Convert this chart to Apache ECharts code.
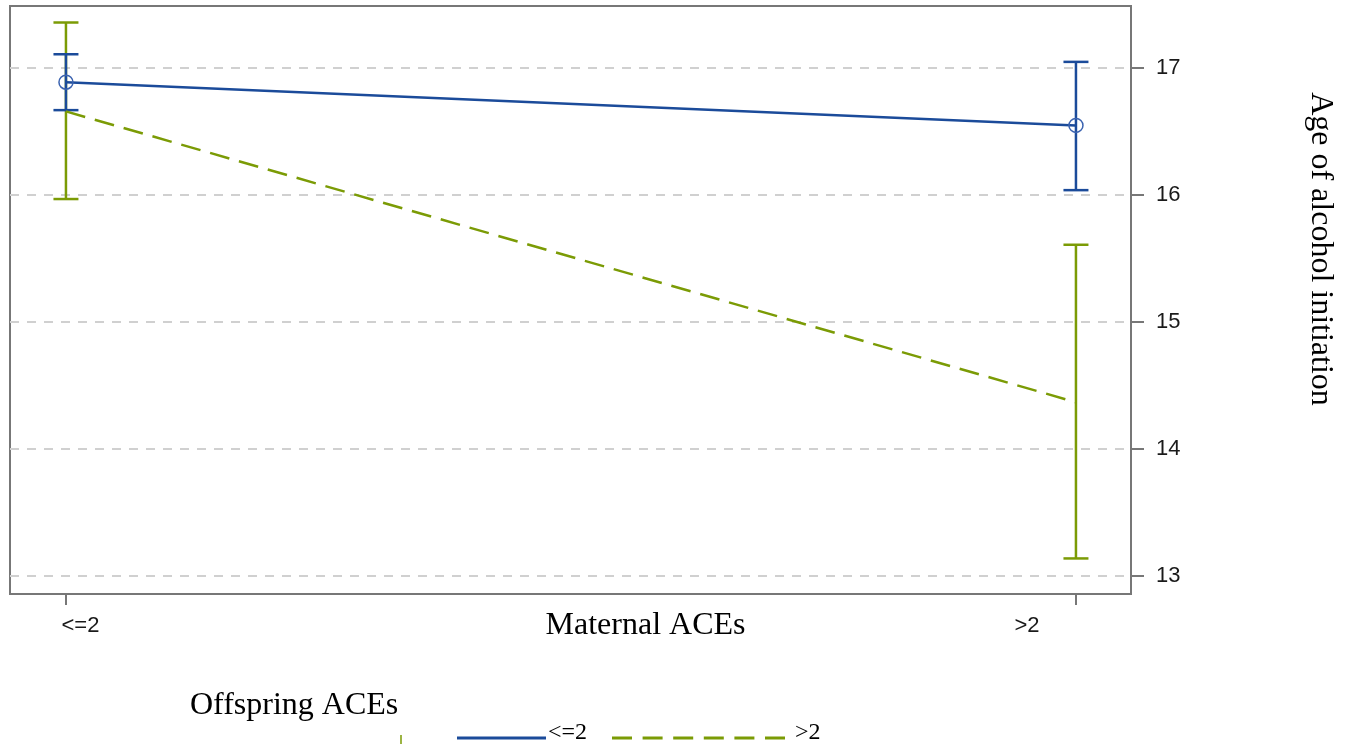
<!DOCTYPE html>
<html>
<head>
<meta charset="utf-8">
<script src="https://cdn.jsdelivr.net/npm/echarts@6/dist/echarts.min.js"></script>
<style>
html,body{margin:0;padding:0;background:#fff;}
#chart{width:1353px;height:744px;}
</style>
</head>
<body>
<div id="chart"></div>
<script>
// Data
var categories = ['<=2', '>2'];            // Maternal ACEs
var yTicks = [13, 14, 15, 16, 17];
var seriesNames = ['<=2', '>2'];          // Offspring ACEs
var meanLow = [16.89, 16.55];             // Offspring ACEs <=2
var ciLowLo = [16.67, 16.04];
var ciLowHi = [17.11, 17.05];
var meanHigh = [16.66, 14.37];            // Offspring ACEs >2
var ciHighLo = [15.97, 13.14];
var ciHighHi = [17.36, 15.61];

var BLUE = '#1b4b9a';
var GREEN = '#7b9b05';
var SERIF = '"Liberation Serif", "Times New Roman", serif';
var SANS = '"Liberation Sans", Arial, sans-serif';

function pts(arr) { return arr.map(function (v, i) { return [i, v]; }); }
function bars(lo, hi) { return lo.map(function (v, i) { return [i, v, hi[i]]; }); }

function errRender(color) {
  return function (params, api) {
    var x = api.value(0);
    var a = api.coord([x, api.value(1)]);
    var b = api.coord([x, api.value(2)]);
    var hw = 12.5;
    var st = { stroke: color, lineWidth: 2.5 };
    return {
      type: 'group',
      children: [
        { type: 'line', shape: { x1: a[0], y1: a[1], x2: b[0], y2: b[1] }, style: st },
        { type: 'line', shape: { x1: a[0] - hw, y1: a[1], x2: a[0] + hw, y2: a[1] }, style: st },
        { type: 'line', shape: { x1: b[0] - hw, y1: b[1], x2: b[0] + hw, y2: b[1] }, style: st }
      ]
    };
  };
}

var chart = echarts.init(document.getElementById('chart'), null, { renderer: 'canvas' });
chart.setOption({
  animation: false,
  backgroundColor: '#fff',
  grid: {
    left: 10, top: 6, right: 222, bottom: 150,
    show: true, borderColor: '#777', borderWidth: 2, backgroundColor: 'transparent'
  },
  xAxis: {
    type: 'value',
    min: -0.0554, max: 1.0545,
    name: 'Maternal ACEs',
    nameLocation: 'middle',
    nameGap: 32,
    nameMoveOverlap: false,
    nameTextStyle: { fontFamily: SERIF, fontSize: 32, color: '#000', verticalAlign: 'middle', padding: [0, 0, 0, 150] },
    axisLine: { show: false, onZero: false },
    splitLine: { show: false },
    axisTick: { show: true, customValues: [0, 1], length: 11, lineStyle: { color: '#777', width: 2 } },
    axisLabel: {
      customValues: [0, 1],
      margin: 21,
      formatter: function (v) { return v < 0.5 ? '{l|' + categories[0] + '}' : '{r|' + categories[1] + '}'; },
      rich: {
        l: { fontFamily: SANS, fontSize: 22, color: '#1a1a1a', padding: [0, 0, 0, 29] },
        r: { fontFamily: SANS, fontSize: 22, color: '#1a1a1a', padding: [0, 98, 0, 0] }
      }
    }
  },
  yAxis: {
    type: 'value',
    position: 'right',
    min: 12.86, max: 17.49,
    axisLine: { show: false, onZero: false },
    axisTick: { show: true, customValues: yTicks, length: 13, lineStyle: { color: '#777', width: 2 } },
    axisLabel: { customValues: yTicks, margin: 25, fontFamily: SANS, fontSize: 22, color: '#1a1a1a' },
    splitLine: { show: true, lineStyle: { color: '#d0d0d0', width: 2, type: [9, 8] } }
  },
  series: [
    {
      name: seriesNames[1] + ' CI', type: 'custom', renderItem: errRender(GREEN),
      data: bars(ciHighLo, ciHighHi), z: 2, silent: true
    },
    {
      name: seriesNames[0] + ' CI', type: 'custom', renderItem: errRender(BLUE),
      data: bars(ciLowLo, ciLowHi), z: 3, silent: true
    },
    {
      name: seriesNames[1], type: 'line', data: pts(meanHigh), z: 4,
      symbol: 'none', lineStyle: { color: GREEN, width: 2.5, type: [20, 10] }, itemStyle: { color: GREEN }
    },
    {
      name: seriesNames[0], type: 'line', data: pts(meanLow), z: 5,
      symbol: 'circle', symbolSize: 14,
      lineStyle: { color: BLUE, width: 2.5 },
      itemStyle: { color: 'rgba(255,255,255,0)', borderColor: '#3b63b0', borderWidth: 1.5 }
    }
  ],
  graphic: [
    {
      type: 'text', x: 1320, y: 249, rotation: -Math.PI / 2,
      style: { text: 'Age of alcohol initiation', fontFamily: SERIF, fontSize: 32, fill: '#000', align: 'center', verticalAlign: 'middle' }
    },
    {
      type: 'text', x: 190, y: 706,
      style: { text: 'Offspring ACEs', fontFamily: SERIF, fontSize: 32, fill: '#000', align: 'left', verticalAlign: 'middle' }
    },
    { type: 'line', shape: { x1: 401, y1: 735, x2: 401, y2: 744 }, style: { stroke: GREEN, lineWidth: 1.5 } },
    { type: 'line', shape: { x1: 457, y1: 738, x2: 546, y2: 738 }, style: { stroke: BLUE, lineWidth: 3 } },
    {
      type: 'text', x: 548, y: 733,
      style: { text: seriesNames[0], fontFamily: SERIF, fontSize: 24, fill: '#000', align: 'left', verticalAlign: 'middle' }
    },
    { type: 'line', shape: { x1: 612, y1: 738, x2: 785, y2: 738 }, style: { stroke: GREEN, lineWidth: 3, lineDash: [20, 10.6] } },
    {
      type: 'text', x: 795, y: 733,
      style: { text: seriesNames[1], fontFamily: SERIF, fontSize: 24, fill: '#000', align: 'left', verticalAlign: 'middle' }
    }
  ]
});
</script>
</body>
</html>
